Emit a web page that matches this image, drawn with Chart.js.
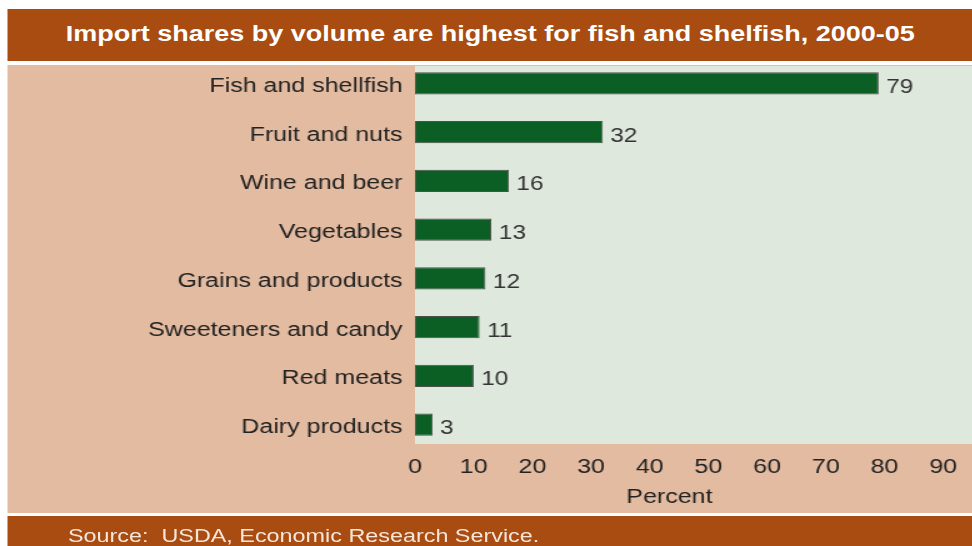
<!DOCTYPE html>
<html>
<head>
<meta charset="utf-8">
<script src="https://cdn.jsdelivr.net/npm/chart.js@4/dist/chart.umd.min.js"></script>
<style>
  body { margin: 0; background: #fff; overflow: hidden; }
  /* the reference is stretched sideways, so draw narrow and scale x */
  #wrap { position: absolute; left: 0; top: 0; width: 778px; height: 546px;
          transform: scaleX(1.25); transform-origin: 0 0;
          font-family: "Liberation Sans", Arial, sans-serif; }
  #titre { position: absolute; left: 6.4px; top: 9px; width: 771.6px; height: 52px;
           background: #a84c12; color: #fff; font-weight: bold; font-size: 21.6px;
           line-height: 50px; text-align: center; }
  #fond { position: absolute; left: 6.4px; top: 65px; width: 771.6px; height: 448px; background: #e3bba0; }
  #zone { position: absolute; left: 332px; top: 66px; width: 446px; height: 378px; background: #dfe8dd; }
  #source { position: absolute; left: 6.4px; top: 516px; width: 771.6px; height: 30px;
            background: #a84c12; color: #f6e6da; font-size: 18.7px; line-height: 30px;
            padding: 5px 0 0 48px; box-sizing: border-box; overflow: hidden; }
  #grafik { position: absolute; left: 0; top: 0; }
</style>
</head>
<body>
<div id="wrap">
  <div id="titre">Import shares by volume are highest for fish and shelfish, 2000-05</div>
  <div id="fond"></div>
  <div id="zone"></div>
  <div id="source">Source:&nbsp; USDA, Economic Research Service.</div>
  <canvas id="grafik" width="778" height="546"></canvas>
</div>
<script>
const kategori = ['Fish and shellfish', 'Fruit and nuts', 'Wine and beer', 'Vegetables',
  'Grains and products', 'Sweeteners and candy', 'Red meats', 'Dairy products'];
const nilai = [79, 32, 16, 13, 12, 11, 10, 3];
const tickX = [0, 10, 20, 30, 40, 50, 60, 70, 80, 90];
const judulX = 'Percent\u00a0\u00a0\u00a0\u00a0\u00a0\u00a0\u00a0';

const warnaTeks = '#222';
const hurufDasar = { family: '"Liberation Sans", Arial, sans-serif', size: 20 };

// tulis angka di ujung batang
const labelNilai = {
  id: 'labelNilai',
  afterDatasetsDraw(chart) {
    const ctx = chart.ctx;
    const meta = chart.getDatasetMeta(0);
    ctx.save();
    ctx.font = '19.5px "Liberation Sans", Arial, sans-serif';
    ctx.fillStyle = '#333';
    ctx.textAlign = 'left';
    ctx.textBaseline = 'middle';
    meta.data.forEach((bar, i) => {
      ctx.fillText(String(nilai[i]), bar.x + 6, bar.y + 4);
    });
    ctx.restore();
  }
};

const ctx = document.getElementById('grafik').getContext('2d');
const grafik = new Chart(ctx, {
  type: 'bar',
  data: {
    labels: kategori,
    datasets: [{
      data: nilai,
      backgroundColor: '#0b5e24',
      borderColor: '#4b524b',
      borderWidth: 1,
      borderSkipped: false,
      categoryPercentage: 1,
      barPercentage: 0.46
    }]
  },
  options: {
    indexAxis: 'y',
    responsive: false,
    animation: false,
    layout: { padding: { top: 59, bottom: 37, left: 0, right: 0 } },
    plugins: { legend: { display: false }, tooltip: { enabled: false } },
    scales: {
      x: {
        min: 0,
        max: 95,
        grid: { display: false, drawTicks: false },
        border: { display: false },
        afterBuildTicks: (scale) => { scale.ticks = tickX.map(v => ({ value: v })); },
        ticks: { color: warnaTeks, font: hurufDasar, padding: 6 },
        title: { display: true, text: judulX, color: warnaTeks, font: hurufDasar,
                 padding: { top: 0, bottom: 0 } }
      },
      y: {
        grid: { display: false, drawTicks: false },
        border: { display: false },
        afterFit: (scale) => { scale.width = 332; },
        ticks: { color: warnaTeks, font: hurufDasar, padding: 10, labelOffset: 3 }
      }
    }
  },
  plugins: [labelNilai]
});
</script>
</body>
</html>
